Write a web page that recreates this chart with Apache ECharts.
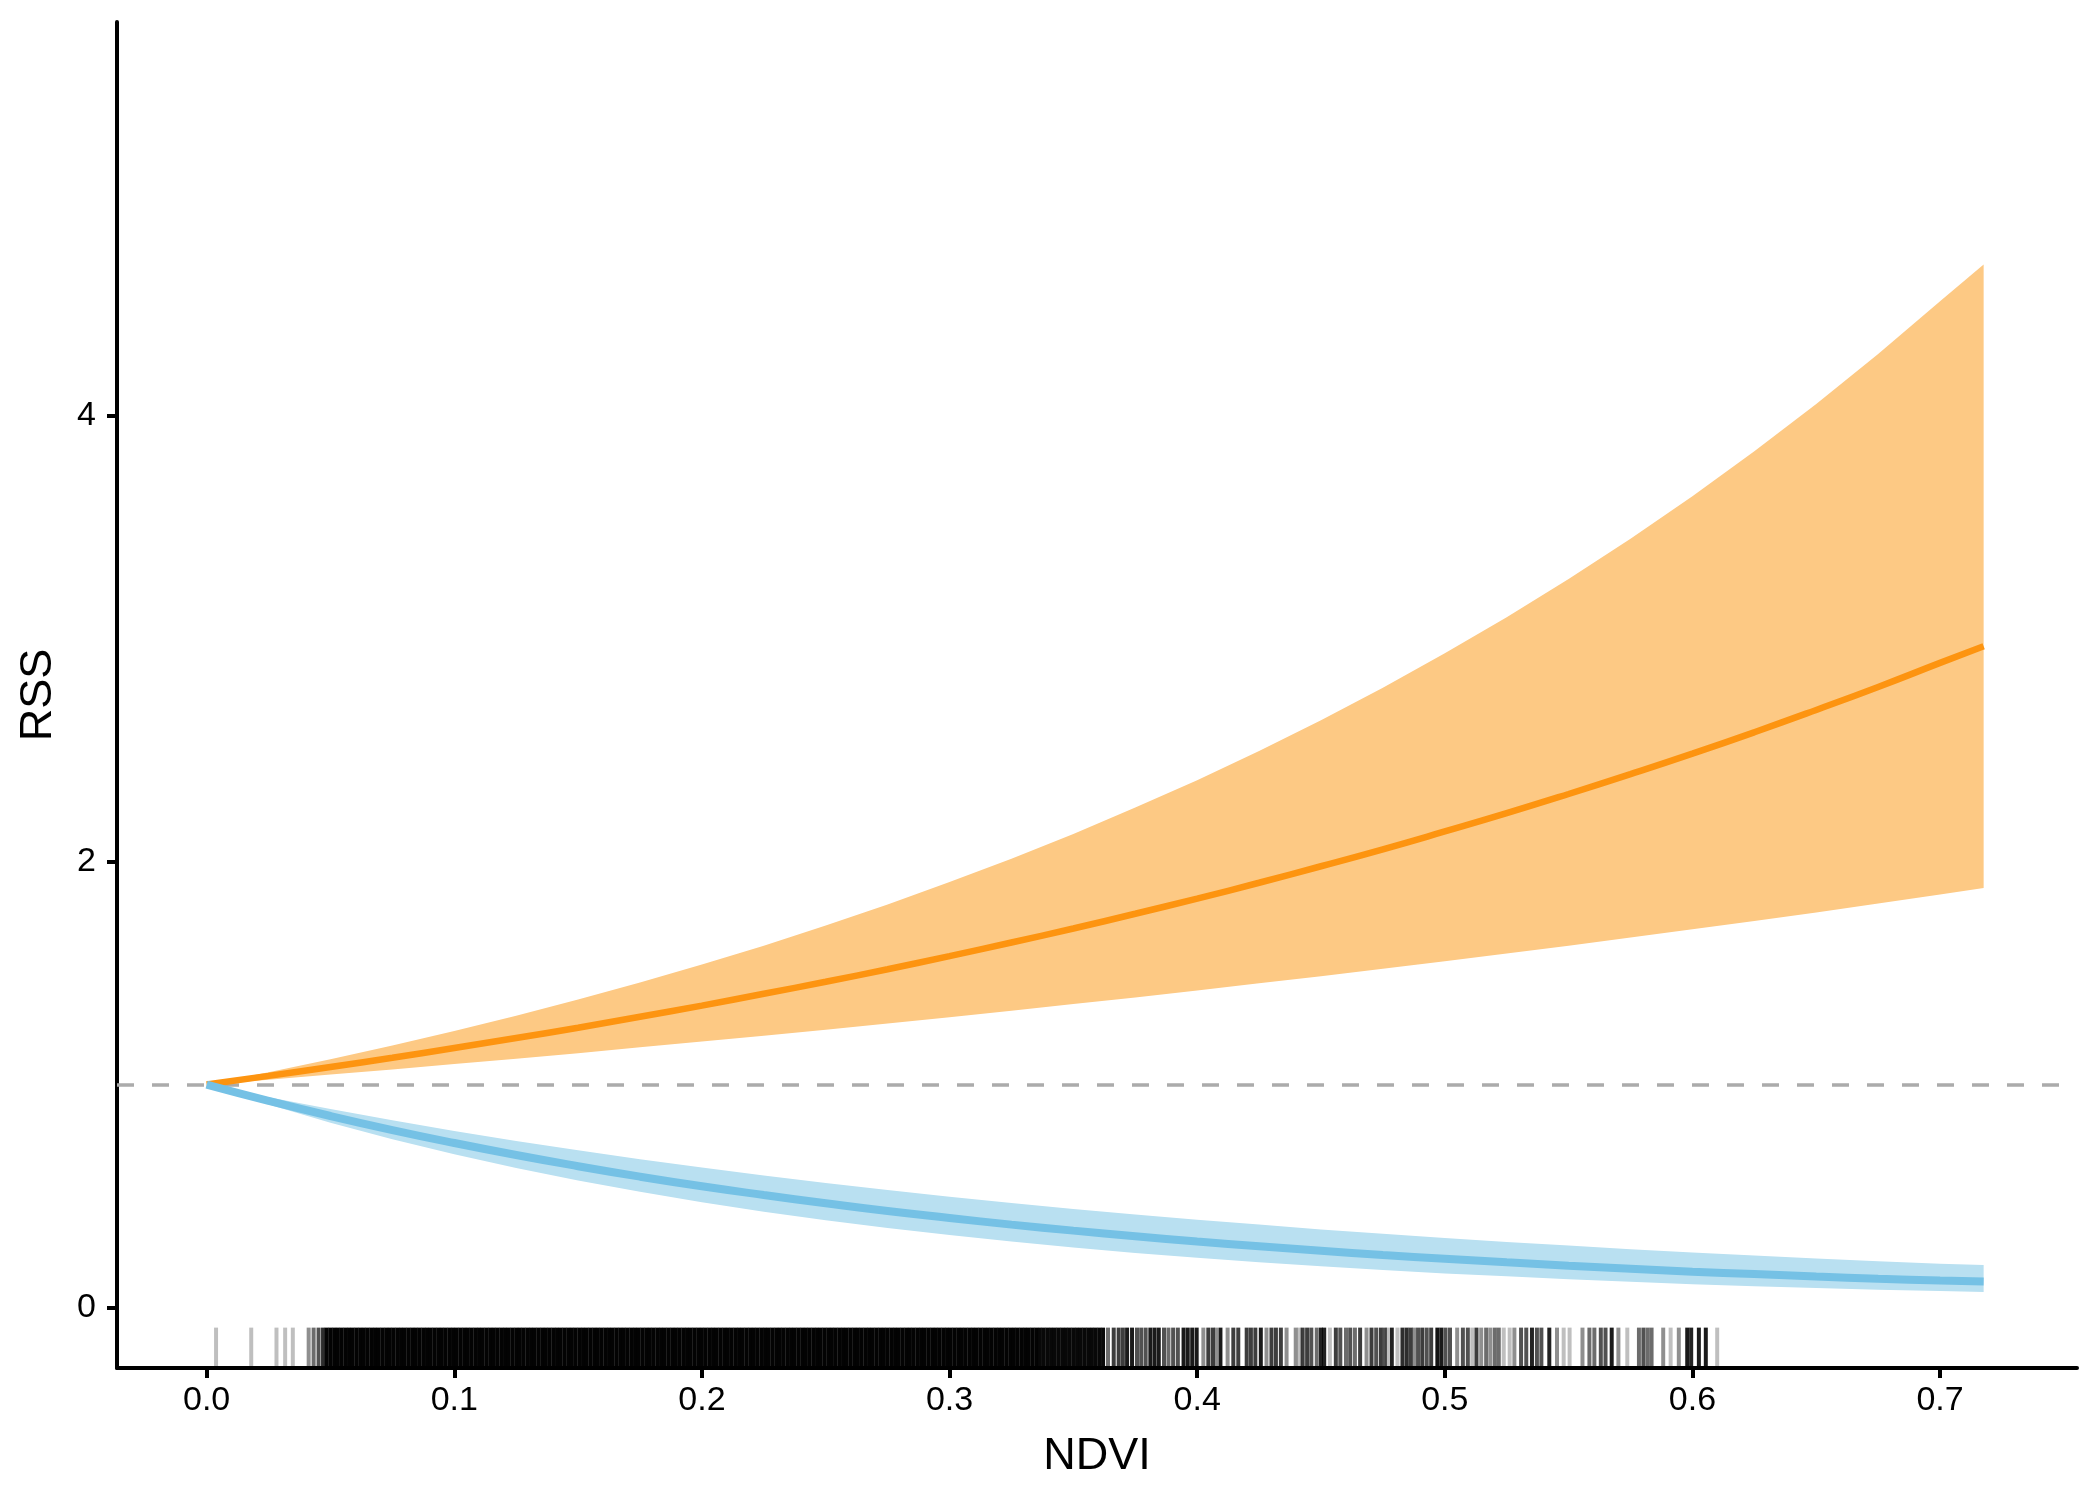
<!DOCTYPE html>
<html>
<head>
<meta charset="utf-8">
<title>RSS vs NDVI</title>
<script src="https://cdn.jsdelivr.net/npm/echarts@6/dist/echarts.min.js"></script>
<style>
  html, body { margin: 0; padding: 0; background: #fff; }
  #main { width: 2100px; height: 1500px; }
</style>
</head>
<body>
<div id="main"></div>
<script>
    // NDVI positions where the curves were read
    var ndvi = [0, 0.025, 0.05, 0.075, 0.1, 0.125, 0.15, 0.175, 0.2, 0.225, 0.25, 0.275, 0.3, 0.325, 0.35,
        0.375, 0.4, 0.425, 0.45, 0.475, 0.5, 0.525, 0.55, 0.575, 0.6, 0.625, 0.65, 0.675, 0.7, 0.7176];

    // orange curve (RSS > 1) and its ribbon
    var orangeMean = [1, 1.039, 1.079, 1.120, 1.164, 1.209, 1.255, 1.304, 1.354, 1.407, 1.461, 1.517, 1.576, 1.637, 1.700,
        1.766, 1.834, 1.905, 1.979, 2.055, 2.135, 2.217, 2.303, 2.392, 2.484, 2.580, 2.680, 2.783, 2.891, 2.966];
    var orangeLow = [1, 1.022, 1.045, 1.068, 1.092, 1.116, 1.141, 1.167, 1.193, 1.219, 1.246, 1.274, 1.302, 1.331, 1.361,
        1.391, 1.422, 1.454, 1.486, 1.519, 1.553, 1.588, 1.623, 1.659, 1.696, 1.734, 1.772, 1.812, 1.852, 1.881];
    var orangeHigh = [1, 1.055, 1.114, 1.175, 1.240, 1.309, 1.381, 1.458, 1.538, 1.623, 1.713, 1.807, 1.908, 2.013, 2.124,
        2.242, 2.365, 2.496, 2.634, 2.780, 2.934, 3.096, 3.267, 3.448, 3.638, 3.840, 4.052, 4.276, 4.513, 4.678];

    // blue curve (RSS < 1) and its ribbon
    var blueMean = [1, 0.927, 0.859, 0.796, 0.738, 0.684, 0.634, 0.587, 0.544, 0.505, 0.468, 0.433, 0.402, 0.372, 0.345,
        0.320, 0.296, 0.275, 0.255, 0.236, 0.219, 0.203, 0.188, 0.174, 0.161, 0.150, 0.139, 0.129, 0.121, 0.117];
    var blueLow = [1, 0.911, 0.829, 0.755, 0.687, 0.626, 0.570, 0.519, 0.472, 0.430, 0.392, 0.357, 0.325, 0.296, 0.269,
        0.245, 0.223, 0.203, 0.185, 0.168, 0.153, 0.140, 0.127, 0.116, 0.105, 0.096, 0.088, 0.080, 0.074, 0.070];
    var blueHigh = [1, 0.943, 0.890, 0.840, 0.792, 0.747, 0.705, 0.665, 0.628, 0.592, 0.559, 0.527, 0.497, 0.469, 0.442,
        0.417, 0.394, 0.372, 0.350, 0.331, 0.312, 0.294, 0.278, 0.262, 0.247, 0.233, 0.220, 0.208, 0.197, 0.191];

    var refLevel = 1;

    // rug: solid black stretch (many obs per tick)
    var rugSolid = [
        0.0485, 0.05, 0.0515, 0.053, 0.0545, 0.056, 0.0575, 0.059, 0.0605, 0.062,
        0.0635, 0.065, 0.0665, 0.068, 0.0695, 0.071, 0.0725, 0.074, 0.0755, 0.077,
        0.0785, 0.08, 0.0815, 0.083, 0.0845, 0.086, 0.0875, 0.089, 0.0905, 0.092,
        0.0935, 0.095, 0.0965, 0.098, 0.0995, 0.101, 0.1025, 0.104, 0.1055, 0.107,
        0.1085, 0.11, 0.1115, 0.113, 0.1145, 0.116, 0.1175, 0.119, 0.1205, 0.122,
        0.1235, 0.125, 0.1265, 0.128, 0.1295, 0.131, 0.1325, 0.134, 0.1355, 0.137,
        0.1385, 0.14, 0.1415, 0.143, 0.1445, 0.146, 0.1475, 0.149, 0.1505, 0.152,
        0.1535, 0.155, 0.1565, 0.158, 0.1595, 0.161, 0.1625, 0.164, 0.1655, 0.167,
        0.1685, 0.17, 0.1715, 0.173, 0.1745, 0.176, 0.1775, 0.179, 0.1805, 0.182,
        0.1835, 0.185, 0.1865, 0.188, 0.1895, 0.191, 0.1925, 0.194, 0.1955, 0.197,
        0.1985, 0.2, 0.2015, 0.203, 0.2045, 0.206, 0.2075, 0.209, 0.2105, 0.212,
        0.2135, 0.215, 0.2165, 0.218, 0.2195, 0.221, 0.2225, 0.224, 0.2255, 0.227,
        0.2285, 0.23, 0.2315, 0.233, 0.2345, 0.236, 0.2375, 0.239, 0.2405, 0.242,
        0.2435, 0.245, 0.2465, 0.248, 0.2495, 0.251, 0.2525, 0.254, 0.2555, 0.257,
        0.2585, 0.26, 0.2615, 0.263, 0.2645, 0.266, 0.2675, 0.269, 0.2705, 0.272,
        0.2735, 0.275, 0.2765, 0.278, 0.2795, 0.281, 0.2825, 0.284, 0.2855, 0.287,
        0.2885, 0.29, 0.2915, 0.293, 0.2945, 0.296, 0.2975, 0.299, 0.3005, 0.302,
        0.3035, 0.305, 0.3065, 0.308, 0.3095, 0.311, 0.3125, 0.314, 0.3155, 0.317,
        0.3185, 0.32, 0.3215, 0.323, 0.3245, 0.326, 0.3275, 0.329, 0.3305, 0.332,
        0.3335, 0.335
    ];
    var rugSolidN = 16;
    var rugEdge = [0.3365, 0.338, 0.3395, 0.341, 0.3425, 0.344, 0.3455, 0.347, 0.3485,
        0.35, 0.3515, 0.353, 0.3545, 0.356, 0.3575, 0.359, 0.3605, 0.362];
    var rugEdgeN = 12;

    // rug: separate ticks with their observation counts
    var rugX = [
        0.0038, 0.018, 0.0282, 0.0317, 0.0348, 0.0412, 0.0432, 0.0452, 0.047,
        0.364, 0.3663, 0.3683, 0.37, 0.3717, 0.3737, 0.3757, 0.3774, 0.3792, 0.3811,
        0.3828, 0.3845, 0.3866, 0.3884, 0.3903, 0.3922, 0.3945, 0.3962, 0.398, 0.3998,
        0.4025, 0.4045, 0.4063, 0.4076, 0.4094, 0.4123, 0.4146, 0.4166, 0.42, 0.4217,
        0.4235, 0.4257, 0.428, 0.43, 0.4318, 0.4338, 0.4361, 0.4398,
        0.4413, 0.4426, 0.4444, 0.4461, 0.4483, 0.45, 0.4513, 0.4536, 0.456, 0.4578,
        0.4601, 0.4618, 0.4637, 0.4658, 0.4684, 0.4704, 0.4723, 0.4742, 0.4758, 0.4768,
        0.4786, 0.4809, 0.4829, 0.4846, 0.4862, 0.4876, 0.4892, 0.4909, 0.4927, 0.4945,
        0.497, 0.4986, 0.5003, 0.5021, 0.505, 0.5073, 0.5093, 0.5111, 0.5128, 0.5147,
        0.5167, 0.5184, 0.5202, 0.5218, 0.5238, 0.5262, 0.5281, 0.5308, 0.5329, 0.5352,
        0.5372, 0.539, 0.5422, 0.5453, 0.548, 0.5504, 0.5556, 0.5584, 0.5604, 0.563,
        0.5649, 0.5674, 0.5701, 0.5737, 0.5784, 0.5802, 0.5819, 0.5835, 0.5882, 0.5912,
        0.5945, 0.5979, 0.5995, 0.6026, 0.6054, 0.61
    ];
    var rugN = [
        1, 1, 1, 1, 1, 2, 3, 4, 6,
        3, 5, 5, 5, 8, 8, 4, 4, 4, 8,
        8, 8, 4, 3, 4, 4, 8, 8, 8, 8,
        2, 5, 5, 2, 8, 2, 5, 5, 5, 5,
        5, 8, 2, 5, 5, 5, 2, 2,
        1, 5, 5, 4, 3, 7, 7, 1, 5, 4,
        3, 4, 3, 5, 2, 5, 4, 5, 4, 1,
        7, 1, 6, 6, 5, 2, 4, 5, 4, 5,
        9, 8, 4, 4, 2, 4, 4, 1, 5, 2,
        3, 2, 3, 3, 1, 1, 2, 4, 4, 7,
        4, 4, 7, 2, 1, 1, 2, 3, 3, 4,
        4, 8, 2, 1, 3, 4, 3, 3, 2, 1,
        2, 8, 7, 8, 8, 1
    ];

    var xTicks = [0, 0.1, 0.2, 0.3, 0.4, 0.5, 0.6, 0.7];
    var yTicks = [0, 2, 4];

    function pairs(ys) {
        return ndvi.map(function (x, i) { return [x, ys[i]]; });
    }

    // ribbon drawn as one polygon through the axis scales
    function ribbon(name, lo, hi, color) {
        return {
            name: name, type: 'custom', silent: true, z: 2,
            data: ndvi.map(function (x, i) { return [x, lo[i], hi[i]]; }),
            encode: {x: 0, y: [1, 2]},
            renderItem: function (params, api) {
                if (params.dataIndex !== 0) return null;
                var top = [], bottom = [];
                for (var i = 0; i < ndvi.length; i++) {
                    top.push(api.coord([ndvi[i], hi[i]]));
                    bottom.unshift(api.coord([ndvi[i], lo[i]]));
                }
                return {type: 'polygon', shape: {points: top.concat(bottom)}, style: {fill: color}};
            }
        };
    }

    var rugData = [];
    rugSolid.forEach(function (x) { rugData.push([x, rugSolidN]); });
    rugEdge.forEach(function (x) { rugData.push([x, rugEdgeN]); });
    rugX.forEach(function (x, i) { rugData.push([x, rugN[i]]); });

    var FONT = 'Liberation Sans, Arial, Helvetica, sans-serif';

    var myChart = echarts.init(document.getElementById('main'), null, {renderer: 'canvas'});
    var option = {
        animation: false,
        backgroundColor: '#fff',
        grid: {left: 117, right: 23, top: 22, bottom: 132},
        xAxis: {
            type: 'value',
            min: -0.0362,
            max: 0.7553,
            name: 'NDVI',
            nameLocation: 'middle',
            nameGap: 66,
            nameTextStyle: {fontSize: 45, color: '#000', fontFamily: FONT},
            axisLine: {show: true, onZero: false, lineStyle: {color: '#000', width: 4}},
            axisTick: {show: true, customValues: xTicks, length: 10, lineStyle: {color: '#000', width: 4}},
            axisLabel: {
                customValues: xTicks, fontSize: 34, color: '#000', fontFamily: FONT, margin: 16,
                formatter: function (v) { return v.toFixed(1); }
            },
            splitLine: {show: false}
        },
        yAxis: {
            type: 'value',
            min: -0.271,
            max: 5.765,
            name: 'RSS',
            nameLocation: 'middle',
            nameGap: 56,
            nameTextStyle: {fontSize: 45, color: '#000', fontFamily: FONT},
            axisLine: {show: true, onZero: false, lineStyle: {color: '#000', width: 4}},
            axisTick: {show: true, customValues: yTicks, length: 10, lineStyle: {color: '#000', width: 4}},
            axisLabel: {customValues: yTicks, fontSize: 34, color: '#000', fontFamily: FONT, margin: 21},
            splitLine: {show: false}
        },
        series: [
            ribbon('orange band', orangeLow, orangeHigh, '#FDC984'),
            ribbon('blue band', blueLow, blueHigh, '#B9E0F1'),
            {
                name: 'orange', type: 'line', data: pairs(orangeMean), smooth: true, symbol: 'none',
                lineStyle: {color: '#FD9410', width: 6.5}, z: 4,
                markLine: {
                    silent: true, symbol: 'none', label: {show: false}, z: 3,
                    lineStyle: {color: '#ABABAB', width: 3.5, type: [17, 18]},
                    data: [{yAxis: refLevel}]
                }
            },
            {
                name: 'blue', type: 'line', data: pairs(blueMean), smooth: true, symbol: 'none',
                lineStyle: {color: '#75C1E5', width: 8}, z: 4
            },
            {
                name: 'rug', type: 'custom', data: rugData, encode: {x: 0, y: 1}, z: 5, silent: true,
                renderItem: function (params, api) {
                    var cs = params.coordSys;
                    var px = api.coord([api.value(0), 0])[0];
                    var len = cs.height * 0.03;
                    return {
                        type: 'rect',
                        shape: {x: px - 2, y: cs.y + cs.height - len, width: 4, height: len},
                        style: {fill: '#000', opacity: 1 - Math.pow(0.75, api.value(1))}
                    };
                }
            }
        ]
    };
    myChart.setOption(option);
</script>
</body>
</html>
